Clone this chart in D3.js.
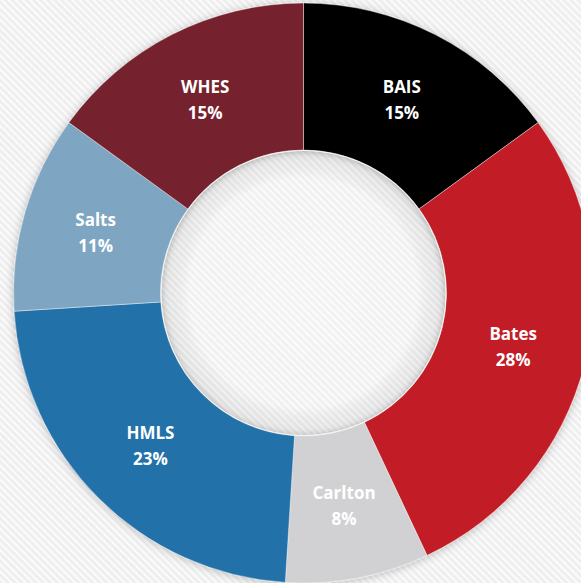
<!DOCTYPE html>
<html>
<head>
<meta charset="utf-8">
<script src="https://cdn.jsdelivr.net/npm/d3@7"></script>
<style>
  html, body { margin: 0; padding: 0; background: #f1f1f1; overflow: hidden; }
  svg { display: block; }
</style>
</head>
<body>
<script>
// School share of enrolment, clockwise from 12 o'clock
const schools = ["BAIS", "Bates", "Carlton", "HMLS", "Salts", "WHES"];
const shares = [15, 28, 8, 23, 11, 15];
const sliceColors = ["#020202", "#c21f25", "#d1d1d3", "#2471a9", "#7ea5c1", "#76232f"];

const width = 581, height = 583;
const cx = 303.5, cy = 293;
const outerR = 290, innerR = 143;

const svg = d3.select("body").append("svg")
  .attr("width", width)
  .attr("height", height);

const defs = svg.append("defs");

// fine diagonal pinstripe backdrop
const pat = defs.append("pattern")
  .attr("id", "pinstripe")
  .attr("patternUnits", "userSpaceOnUse")
  .attr("width", 5).attr("height", 5)
  .attr("patternTransform", "rotate(-45)");
pat.append("rect").attr("width", 5).attr("height", 5).attr("fill", "#eeeeee");
pat.append("rect").attr("width", 2.2).attr("height", 5).attr("fill", "#fbfbfb");

// soft shadow around the ring
const shadow = defs.append("filter")
  .attr("id", "ringShadow")
  .attr("x", "-20%").attr("y", "-20%")
  .attr("width", "140%").attr("height", "140%");
shadow.append("feDropShadow")
  .attr("dx", 0).attr("dy", 1)
  .attr("stdDeviation", 4)
  .attr("flood-color", "#000")
  .attr("flood-opacity", 0.25);

// shading toward the rim of the hole
const hole = defs.append("radialGradient").attr("id", "holeShade");
hole.append("stop").attr("offset", "0%").attr("stop-color", "#fff").attr("stop-opacity", 0.25);
hole.append("stop").attr("offset", "80%").attr("stop-color", "#fff").attr("stop-opacity", 0.1);
hole.append("stop").attr("offset", "96%").attr("stop-color", "#000").attr("stop-opacity", 0.05);
hole.append("stop").attr("offset", "100%").attr("stop-color", "#000").attr("stop-opacity", 0.09);

svg.append("rect")
  .attr("width", width).attr("height", height)
  .attr("fill", "url(#pinstripe)");

const data = schools.map((name, i) => ({ name, value: shares[i], color: sliceColors[i] }));

const pie = d3.pie()
  .value(d => d.value)
  .sort(null);

const arc = d3.arc()
  .innerRadius(innerR)
  .outerRadius(outerR);

const labelArc = d3.arc()
  .innerRadius((innerR + outerR) / 2)
  .outerRadius((innerR + outerR) / 2);

const g = svg.append("g").attr("transform", `translate(${cx},${cy})`);

const ring = g.append("g").attr("filter", "url(#ringShadow)");

ring.selectAll("path")
  .data(pie(data))
  .join("path")
  .attr("d", arc)
  .attr("fill", d => d.data.color)
  .attr("stroke", "rgba(255,255,255,0.4)")
  .attr("stroke-width", 1);

// hole rim shading and light edge
g.append("circle")
  .attr("r", innerR)
  .attr("fill", "url(#holeShade)");
g.append("circle")
  .attr("r", innerR - 0.5)
  .attr("fill", "none")
  .attr("stroke", "rgba(255,255,255,0.8)")
  .attr("stroke-width", 1);

const labels = g.selectAll("text.lbl")
  .data(pie(data))
  .join("text")
  .attr("class", "lbl")
  .attr("transform", d => `translate(${labelArc.centroid(d)})`)
  .attr("text-anchor", "middle")
  .attr("font-family", "'Open Sans', Lato, sans-serif")
  .attr("font-weight", 700)
  .attr("font-size", 17)
  .attr("fill", "#ffffff");

labels.append("tspan")
  .attr("x", 0)
  .attr("y", -7)
  .text(d => d.data.name);
labels.append("tspan")
  .attr("x", 0)
  .attr("y", 19)
  .text(d => d.data.value + "%");
</script>
</body>
</html>
